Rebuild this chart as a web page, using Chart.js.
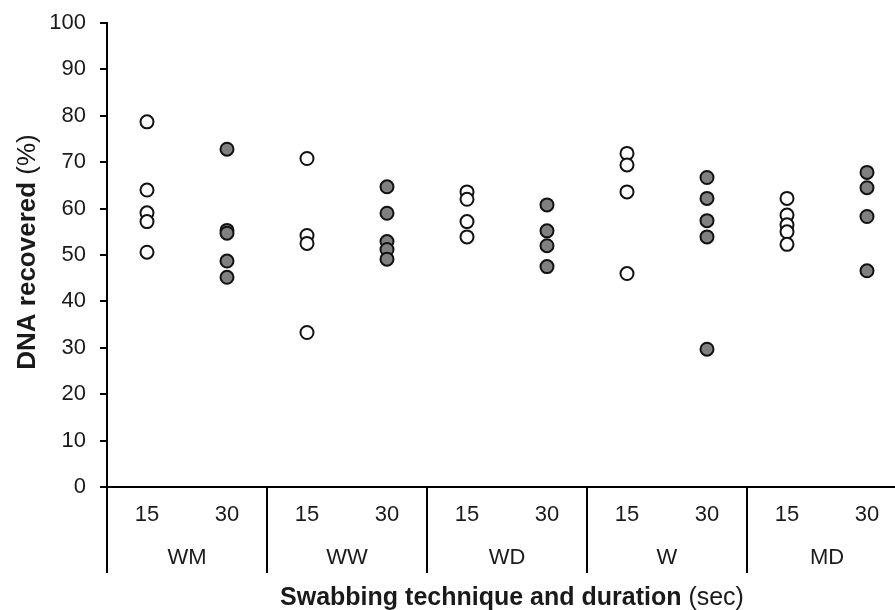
<!DOCTYPE html>
<html>
<head>
<meta charset="utf-8">
<script src="https://cdn.jsdelivr.net/npm/chart.js@4/dist/chart.umd.min.js"></script>
<style>
  html, body { margin: 0; padding: 0; background: #fff; overflow: hidden; }
  #wrap { width: 895px; height: 610px; position: relative; }
</style>
</head>
<body>
<div id="wrap"><canvas id="c" width="895" height="610"></canvas></div>
<script>
// ---- data ----
const groups = ['WM', 'WW', 'WD', 'W', 'MD'];
const durations = ['15', '30'];
const yTicks = [0, 10, 20, 30, 40, 50, 60, 70, 80, 90, 100];
// DNA recovered (%) per group, 15-second swabbing
const sec15 = [
  [78.7, 64.0, 59.1, 57.2, 50.6],
  [70.8, 54.2, 52.5, 33.3],
  [63.6, 62.0, 57.2, 53.9],
  [71.9, 69.4, 63.6, 46.0],
  [62.2, 58.6, 56.5, 55.0, 52.3]
];
// DNA recovered (%) per group, 30-second swabbing
const sec30 = [
  [72.8, 55.3, 54.7, 48.7, 45.2],
  [64.7, 59.0, 52.9, 51.2, 49.1],
  [60.8, 55.2, 52.0, 47.5],
  [66.7, 62.2, 57.4, 53.9, 29.7],
  [67.8, 64.5, 58.3, 46.6]
];

const FONT = '"Liberation Sans", Arial, sans-serif';
const TXT = '#1a1a1a';

function pts(series, dIdx) {
  const out = [];
  series.forEach((vals, g) => vals.forEach(v => out.push({ x: g * durations.length + dIdx, y: v })));
  return out;
}

const categoryCount = groups.length * durations.length;

const decor = {
  id: 'decor',
  afterDraw(chart) {
    const ctx = chart.ctx;
    const xs = chart.scales.x, ys = chart.scales.y;
    const base = ys.getPixelForValue(0);
    const lineBottom = 573;
    ctx.save();
    // separators
    ctx.strokeStyle = '#000';
    ctx.lineWidth = 2;
    for (let g = 0; g <= groups.length - 1; g++) {
      const xv = g * durations.length - 0.5;
      const px = Math.round(xs.getPixelForValue(xv));
      ctx.beginPath();
      ctx.moveTo(px, base);
      ctx.lineTo(px, lineBottom);
      ctx.stroke();
    }
    // duration labels
    ctx.fillStyle = TXT;
    ctx.font = '22px ' + FONT;
    ctx.textAlign = 'center';
    ctx.textBaseline = 'middle';
    for (let i = 0; i < categoryCount; i++) {
      ctx.fillText(durations[i % durations.length], xs.getPixelForValue(i), 515);
    }
    // group labels
    groups.forEach((g, k) => {
      const xv = k * durations.length + (durations.length - 1) / 2;
      ctx.fillText(g, xs.getPixelForValue(xv), 558);
    });
    // x title (mixed weight)
    const boldX = 'Swabbing technique and duration';
    const normX = ' (sec)';
    ctx.font = 'bold 25px ' + FONT;
    const wb = ctx.measureText(boldX).width;
    ctx.font = '25px ' + FONT;
    const wn = ctx.measureText(normX).width;
    const cx = (xs.getPixelForValue(-0.5) + xs.getPixelForValue(categoryCount - 0.5)) / 2 + 5;
    let sx = cx - (wb + wn) / 2;
    ctx.textAlign = 'left';
    ctx.textBaseline = 'alphabetic';
    ctx.font = 'bold 25px ' + FONT;
    ctx.fillText(boldX, sx, 605);
    ctx.font = '25px ' + FONT;
    ctx.fillText(normX, sx + wb, 605);
    // y title (rotated, mixed weight)
    const boldY = 'DNA recovered';
    const normY = ' (%)';
    ctx.font = 'bold 26px ' + FONT;
    const yb = ctx.measureText(boldY).width;
    ctx.font = '26px ' + FONT;
    const yn = ctx.measureText(normY).width;
    const cy = 252;
    ctx.translate(35, cy);
    ctx.rotate(-Math.PI / 2);
    const s2 = -(yb + yn) / 2;
    ctx.font = 'bold 26px ' + FONT;
    ctx.fillText(boldY, s2, 0);
    ctx.font = '26px ' + FONT;
    ctx.fillText(normY, s2 + yb, 0);
    ctx.restore();
  }
};

new Chart(document.getElementById('c'), {
  type: 'scatter',
  data: {
    datasets: [
      {
        label: '15 sec',
        data: pts(sec15, 0),
        backgroundColor: '#ffffff',
        borderColor: '#111111',
        borderWidth: 2,
        pointRadius: 6.5,
        pointHoverRadius: 6.5
      },
      {
        label: '30 sec',
        data: pts(sec30, 1),
        backgroundColor: '#808080',
        borderColor: '#111111',
        borderWidth: 2,
        pointRadius: 6.5,
        pointHoverRadius: 6.5
      }
    ]
  },
  options: {
    responsive: false,
    animation: false,
    events: [],
    layout: { autoPadding: false, padding: { top: 23, right: 0, bottom: 0, left: 0 } },
    plugins: { legend: { display: false }, tooltip: { enabled: false } },
    scales: {
      x: {
        type: 'linear',
        min: -0.5,
        max: 9.35,
        ticks: { display: false },
        grid: { display: false },
        border: { display: true, color: '#000', width: 2 },
        afterFit(s) { s.height = 123; s.paddingLeft = 0; s.paddingRight = 0; }
      },
      y: {
        type: 'linear',
        min: 0,
        max: 100,
        afterBuildTicks(s) { s.ticks = yTicks.map(v => ({ value: v })); },
        ticks: {
          color: TXT,
          padding: 14,
          font: { family: FONT, size: 22 }
        },
        grid: {
          display: true,
          drawOnChartArea: false,
          drawTicks: true,
          tickLength: 7,
          color: '#000',
          lineWidth: 2
        },
        border: { display: true, color: '#000', width: 2 },
        afterFit(s) { s.width = 107; s.paddingTop = 0; s.paddingBottom = 0; }
      }
    }
  },
  plugins: [decor]
});
</script>
</body>
</html>
